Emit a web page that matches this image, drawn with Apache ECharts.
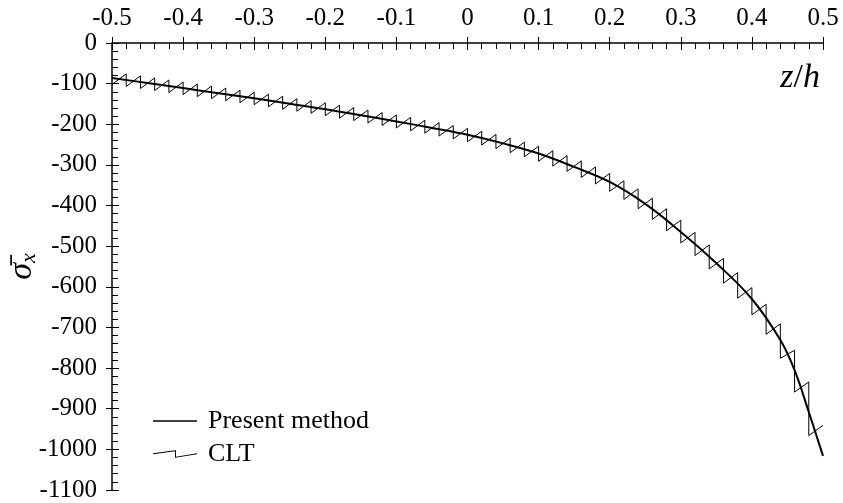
<!DOCTYPE html>
<html>
<head>
<meta charset="utf-8">
<script src="https://cdn.jsdelivr.net/npm/echarts@6/dist/echarts.min.js"></script>
<style>
  html, body { margin: 0; padding: 0; background: #fff; }
  #main { width: 843px; height: 503px; }
</style>
</head>
<body>
<div id="main"></div>
<script>
// present method: smooth curve, z/h vs sigma_x
var zPresent = [-0.5, -0.45, -0.4, -0.35, -0.3, -0.25, -0.2, -0.15, -0.1, -0.05, 0,
  0.05, 0.1, 0.15, 0.2, 0.25, 0.3, 0.35, 0.4, 0.44, 0.46, 0.48, 0.5];
var sigmaPresent = [-86, -98.5, -111, -123.5, -136, -149.5, -163, -178, -193, -209, -226,
  -247, -272, -305, -342, -396, -465, -542, -630, -731, -805, -908, -1016];

// CLT: 50 layers, linear inside each layer
var layerEdges = [-0.5, -0.48, -0.46, -0.44, -0.42, -0.4, -0.38, -0.36, -0.34, -0.32,
  -0.3, -0.28, -0.26, -0.24, -0.22, -0.2, -0.18, -0.16, -0.14, -0.12,
  -0.1, -0.08, -0.06, -0.04, -0.02, 0, 0.02, 0.04, 0.06, 0.08,
  0.1, 0.12, 0.14, 0.16, 0.18, 0.2, 0.22, 0.24, 0.26, 0.28,
  0.3, 0.32, 0.34, 0.36, 0.38, 0.4, 0.42, 0.44, 0.46, 0.48, 0.5];
var cltBottom = [-102, -107, -112, -117, -122, -127, -132, -137, -142, -147,
  -152, -157, -163, -168, -173, -179, -185, -191, -197, -203,
  -209, -216, -222, -229, -236, -243, -251, -260, -270, -280,
  -291, -303, -316, -331, -347, -365, -385, -408, -434, -462,
  -492, -523, -556, -591, -628, -669, -717, -776, -859, -966];
var cltTop = [-76, -81, -86, -91, -96, -101, -106, -111, -116, -121,
  -126, -131, -137, -142, -147, -153, -159, -165, -171, -177,
  -183, -190, -196, -203, -210, -217, -225, -234, -244, -254,
  -265, -277, -290, -305, -321, -339, -359, -382, -408, -436,
  -466, -497, -530, -565, -602, -643, -691, -756, -834, -941];

var presentData = zPresent.map(function (z, i) { return [z, sigmaPresent[i]]; });
var cltData = [];
for (var k = 0; k < cltBottom.length; k++) {
  cltData.push([layerEdges[k], cltBottom[k]]);
  cltData.push([layerEdges[k + 1], cltTop[k]]);
}

var serif = 'Liberation Serif';
var myChart = echarts.init(document.getElementById('main'));

var xBase = {
  type: 'value', position: 'top', min: -0.5, max: 0.5, interval: 0.1,
  splitLine: { show: false }
};
var yBase = {
  type: 'value', position: 'left', min: -1100, max: 0, interval: 100,
  splitLine: { show: false }
};

var option = {
  backgroundColor: '#fff',
  animation: false,
  title: {
    text: '{i|z}{n|/}{i|h}',
    right: 18, top: 56,
    textStyle: {
      rich: {
        i: { fontFamily: serif, fontStyle: 'italic', fontWeight: 'normal', fontSize: 34, color: '#000' },
        n: { fontFamily: serif, fontWeight: 'normal', fontSize: 34, color: '#000' }
      }
    }
  },
  legend: {
    orient: 'vertical',
    left: 148, top: 403,
    itemWidth: 44, itemHeight: 8, itemGap: 7,
    textStyle: { fontFamily: serif, fontSize: 26, color: '#000', lineHeight: 26, padding: [0, 0, 0, 6] },
    data: [
      { name: 'Present method', icon: 'path://M0,0 L44,0 L44,1.6 L0,1.6 Z',
        itemStyle: { color: '#000', borderWidth: 0 } },
      { name: 'CLT', icon: 'path://M0,3 L22,0 L23,0 L23,6.5 L44,3.2 L44,4.2 L22,7.7 L22,1.2 L0,4 Z',
        itemStyle: { color: '#000', borderWidth: 0 } }
    ]
  },
  grid: { left: 112, right: 20, top: 43, bottom: 13, outerBoundsMode: 'none' },
  xAxis: [
    Object.assign({}, xBase, {
      axisLine: { onZero: false, lineStyle: { color: '#000', width: 1.5 } },
      axisTick: { inside: true, length: 7, lineStyle: { color: '#000', width: 1 } },
      minorTick: { show: true, splitNumber: 5, length: 6, lineStyle: { color: '#000', width: 1 } },
      axisLabel: { fontFamily: serif, fontSize: 25, color: '#000', margin: 12 }
    }),
    Object.assign({}, xBase, {
      axisLine: { show: false, onZero: false },
      axisTick: { inside: false, length: 6, lineStyle: { color: '#000', width: 1 } },
      axisLabel: { show: false }
    })
  ],
  yAxis: [
    Object.assign({}, yBase, {
      name: '{s|σ̄}{x|x}',
      nameLocation: 'middle', nameRotate: 90, nameGap: 72,
      nameMoveOverlap: false,
      nameTextStyle: {
        rich: {
          s: { fontFamily: serif, fontStyle: 'italic', fontSize: 34, color: '#000' },
          x: { fontFamily: serif, fontStyle: 'italic', fontSize: 22, color: '#000', padding: [14, 0, 0, 0] }
        }
      },
      axisLine: { onZero: false, lineStyle: { color: '#000', width: 1.5 } },
      axisTick: { inside: true, length: 7, lineStyle: { color: '#000', width: 1 } },
      minorTick: { show: true, splitNumber: 5, length: 6, lineStyle: { color: '#000', width: 1 } },
      axisLabel: {
        fontFamily: serif, fontSize: 25, color: '#000', margin: 15,
        formatter: function (v) { return String(v); }
      }
    }),
    Object.assign({}, yBase, {
      axisLine: { show: false, onZero: false },
      axisTick: { inside: false, length: 6, lineStyle: { color: '#000', width: 1 } },
      axisLabel: { show: false }
    })
  ],
  series: [
    {
      name: 'CLT', type: 'line', data: cltData,
      symbol: 'none', color: '#000',
      lineStyle: { color: '#000', width: 1 },
      z: 2
    },
    {
      name: 'Present method', type: 'line', data: presentData,
      symbol: 'none', smooth: 0.4, color: '#000',
      lineStyle: { color: '#000', width: 2 },
      z: 3
    }
  ]
};
myChart.setOption(option);
</script>
</body>
</html>
